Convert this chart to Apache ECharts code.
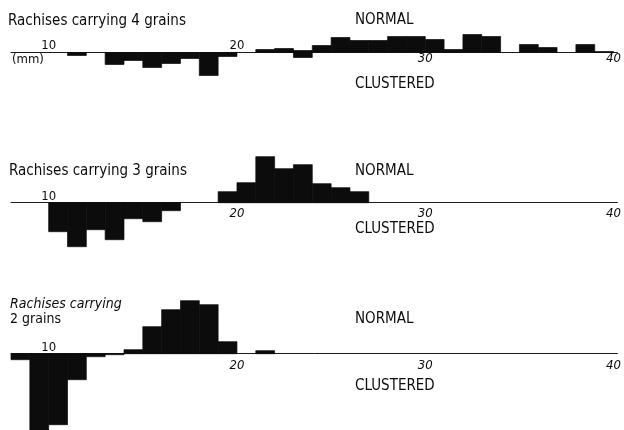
<!DOCTYPE html>
<html>
<head>
<meta charset="utf-8">
<script src="https://cdn.jsdelivr.net/npm/echarts@6/dist/echarts.min.js"></script>
<style>
html,body{margin:0;padding:0;background:#fff;}
#chart{width:624px;height:430px;}
</style>
</head>
<body>
<div id="chart"></div>
<script>
// bin start (mm); each bin is 1 mm wide
const bins = [8,9,10,11,12,13,14,15,16,17,18,19,20,21,22,23,24,25,26,27,28,29,30,31,32,33,34,35,36,37,38,39];

// Rachises carrying 4 grains
const normal4    = [0,0,0,0,0,0,0,0,0,0,0,0,0,3,4,2,7,15,12,12,16,16,13,3,18,16,0,8,5,0,8,1];
const clustered4 = [0,0,0,3,0,12,8,15,11,6,23,4,0,0,0,5,0,0,0,0,0,0,0,0,0,0,0,0,0,0,0,0];
// Rachises carrying 3 grains
const normal3    = [0,0,0,0,0,0,0,0,0,0,0,11,20,46,34,38,19,15,11,0,0,0,0,0,0,0,0,0,0,0,0,0];
const clustered3 = [0,0,29,44,27,37,16,19,8,0,0,0,0,0,0,0,0,0,0,0,0,0,0,0,0,0,0,0,0,0,0,0];
// Rachises carrying 2 grains
const normal2    = [0,0,0,0,0,0,4,27,44,53,49,12,0,3,0,0,0,0,0,0,0,0,0,0,0,0,0,0,0,0,0,0];
const clustered2 = [6,80,71,26,3,1,0,0,0,0,0,0,0,0,0,0,0,0,0,0,0,0,0,0,0,0,0,0,0,0,0,0];

// tick labels (above / below the line)
const ticksAbove = [[10,20],[10],[10]];
const ticksBelow = [[30,40],[20,30,40],[20,30,40]];

const titles = [["Rachises carrying 4 grains"],["Rachises carrying 3 grains"],["Rachises carrying","2 grains"]];
const upperLabel = "NORMAL";
const lowerLabel = "CLUSTERED";
const unitLabel = "(mm)";

const panels = [
  {normal: normal4, clustered: clustered4},
  {normal: normal3, clustered: clustered3},
  {normal: normal2, clustered: clustered2}
];

const FONT = '"Liberation Sans Narrow","DejaVu Sans Condensed","Noto Sans",sans-serif';
const INK = '#0c0c0c';

// layout (pixels); 1 value unit = 1 px vertically
const gridLayout = [
  {top: 12.5, height: 80, min: -40, max: 40, belowMargin: 0},
  {top: 152.7, height: 100, min: -50, max: 50, belowMargin: 4},
  {top: 293.7, height: 136, min: -76, max: 60, belowMargin: 5}
];

const grid = [], xAxis = [], yAxis = [], series = [];
gridLayout.forEach((g, k) => {
  grid.push({left: 11, right: 4, top: g.top, height: g.height, containLabel: false});
  // axis line + labels above the line
  xAxis.push({
    gridIndex: k, type: 'value', position: 'bottom', min: 8, max: 40.2, offset: g.min,
    axisLine: {show: true, onZero: false, lineStyle: {color: '#1a1a1a', width: 1}},
    axisTick: {show: false}, splitLine: {show: false},
    axisLabel: {customValues: ticksAbove[k], inside: true, margin: 0, color: INK,
      fontFamily: FONT, fontSize: 13}
  });
  // labels below the line
  xAxis.push({
    gridIndex: k, type: 'value', position: 'bottom', min: 8, max: 40.2, offset: g.min,
    axisLine: {show: false, onZero: false},
    axisTick: {show: false}, splitLine: {show: false},
    axisLabel: {customValues: ticksBelow[k], margin: g.belowMargin, color: INK,
      fontFamily: FONT, fontSize: 13, fontStyle: 'italic'}
  });
  yAxis.push({
    gridIndex: k, type: 'value', min: g.min, max: g.max, show: false,
    splitLine: {show: false}
  });
});

function renderBar(params, api) {
  const x0 = api.value(0), x1 = api.value(1), v = api.value(2);
  if (!v) return null;
  const p0 = api.coord([x0, 0]);
  const p1 = api.coord([x1, v]);
  return {
    type: 'rect',
    shape: {x: p0[0], y: Math.min(p0[1], p1[1]), width: p1[0] - p0[0], height: Math.abs(p1[1] - p0[1])},
    style: {fill: INK, stroke: INK, lineWidth: 0.7}
  };
}

panels.forEach((p, k) => {
  series.push({
    type: 'custom', name: 'normal' + k, xAxisIndex: 2 * k, yAxisIndex: k, clip: false,
    renderItem: renderBar, silent: true,
    data: bins.map((b, i) => [b, b + 1, p.normal[i]])
  });
  series.push({
    type: 'custom', name: 'clustered' + k, xAxisIndex: 2 * k, yAxisIndex: k, clip: false,
    renderItem: renderBar, silent: true,
    data: bins.map((b, i) => [b, b + 1, -p.clustered[i]])
  });
});

function txt(text, x, y, size, opts) {
  opts = opts || {};
  return {
    type: 'text', x: x, y: y, silent: true,
    style: {
      text: text, fill: INK,
      font: (opts.italic ? 'italic ' : '') + size + 'px ' + FONT,
      align: opts.align || 'left', verticalAlign: 'middle'
    }
  };
}

const graphics = [
  txt(titles[0][0], 8, 21.5, 15),
  txt(titles[1][0], 9, 171, 15),
  txt(titles[2][0], 10, 304, 14, {italic: true}),
  txt(titles[2][1], 10, 319.5, 14),
  txt(upperLabel, 355, 20, 15),
  txt(upperLabel, 355, 171, 15),
  txt(upperLabel, 355, 319, 15),
  txt(lowerLabel, 355, 84, 15),
  txt(lowerLabel, 355, 229, 15),
  txt(lowerLabel, 355, 386.5, 15),
  txt(unitLabel, 12, 60, 13)
];

const chart = echarts.init(document.getElementById('chart'), null, {renderer: 'canvas'});
chart.setOption({
  backgroundColor: '#ffffff',
  animation: false,
  grid: grid, xAxis: xAxis, yAxis: yAxis, series: series,
  graphic: graphics
});
</script>
</body>
</html>
